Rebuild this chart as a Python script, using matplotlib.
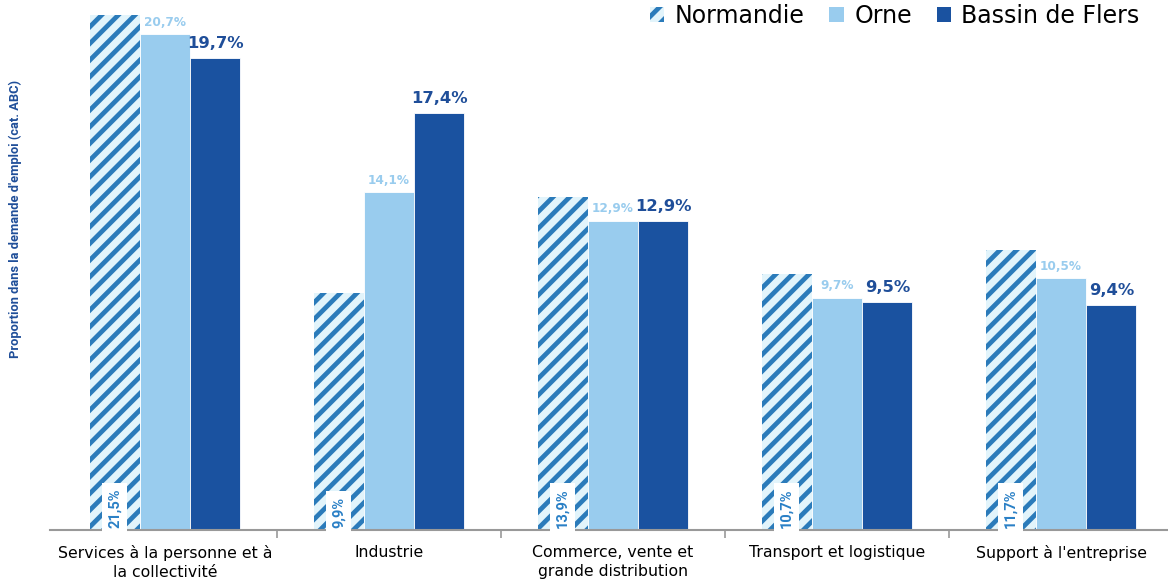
import matplotlib
matplotlib.use("Agg")
import matplotlib.pyplot as plt
import numpy as np
from matplotlib.patches import Patch

categories = ["Services à la personne et à\nla collectivité", "Industrie",
              "Commerce, vente et\ngrande distribution", "Transport et logistique",
              "Support à l'entreprise"]
series_names = ["Normandie", "Orne", "Bassin de Flers"]
normandie = [21.5, 9.9, 13.9, 10.7, 11.7]
orne = [20.7, 14.1, 12.9, 9.7, 10.5]
bassin = [19.7, 17.4, 12.9, 9.5, 9.4]
normandie_labels = ["21,5%", "9,9%", "13,9%", "10,7%", "11,7%"]
orne_labels = ["20,7%", "14,1%", "12,9%", "9,7%", "10,5%"]
bassin_labels = ["19,7%", "17,4%", "12,9%", "9,5%", "9,4%"]

STRIPE = "#2B7BBA"
HATCH_BG = "#E2F4FB"
ORNE_C = "#99CCEE"
BASSIN_C = "#1A52A0"
DARK_TXT = "#1F4E99"
NORM_TXT = "#2A80C6"

plt.rcParams["hatch.linewidth"] = 3.4
plt.rcParams["font.family"] = ["DejaVu Sans"]

fig = plt.figure(figsize=(11.68, 5.82), dpi=100)
ax = fig.add_axes([50/1168, 52/582, 1 - 50/1168, 515/582])

x = np.arange(len(categories))
w = 0.223
off = 0.225

b1 = ax.bar(x - off, normandie, w, color=HATCH_BG, edgecolor=STRIPE, hatch="//", linewidth=0)
b2 = ax.bar(x, orne, w, color=ORNE_C, edgecolor="white", linewidth=0.6)
b3 = ax.bar(x + off, bassin, w, color=BASSIN_C, edgecolor="white", linewidth=0.6)

for xi, lab in zip(x, normandie_labels):
    ax.text(xi - off, 0.1, lab, rotation=90, ha="center", va="bottom",
            fontsize=10.5, color=NORM_TXT, fontweight="bold",
            family=["Roboto", "DejaVu Sans"], fontstretch="condensed",
            bbox=dict(boxstyle="square,pad=0.35", fc="white", ec="none"))
for xi, v, lab in zip(x, orne, orne_labels):
    ax.annotate(lab, (xi, v), xytext=(0, 4), textcoords="offset points",
                ha="center", va="bottom", fontsize=8.7, fontweight="bold", color=ORNE_C)
for xi, v, lab in zip(x + off, bassin, bassin_labels):
    ax.annotate(lab, (xi, v), xytext=(0, 5), textcoords="offset points",
                ha="center", va="bottom", fontsize=11.8, fontweight="bold", color=DARK_TXT)

ax.set_ylim(0, 21.5)
ax.set_xlim((50 - 165) / 224, (1168 - 165) / 224)
ax.set_yticks([])
for s in ["left", "right", "top"]:
    ax.spines[s].set_visible(False)
ax.spines["bottom"].set_color("#999999")
ax.spines["bottom"].set_linewidth(1.5)
ax.set_xticks(x)
ax.set_xticklabels(categories, fontsize=11.3, color="black", linespacing=1.3)
ax.tick_params(axis="x", which="major", length=0, pad=11)
ax.set_xticks(np.arange(0.5, len(categories) - 0.5, 1), minor=True)
ax.tick_params(axis="x", which="minor", length=6, width=1.2, color="#999999")

fig.text(0.0135, 1 - 219/582, "Proportion dans la demande d'emploi (cat. ABC)",
         rotation=90, ha="center", va="center", fontsize=9.3, fontweight="bold",
         color=DARK_TXT, family=["Roboto", "DejaVu Sans"])

handles = [Patch(facecolor=HATCH_BG, edgecolor=STRIPE, hatch="//", linewidth=0),
           Patch(facecolor=ORNE_C, edgecolor="none"),
           Patch(facecolor=BASSIN_C, edgecolor="none")]
fig.legend(handles, series_names, loc="upper right", bbox_to_anchor=(1142/1168, 0.998),
           ncol=3, frameon=False, fontsize=17, handlelength=0.6, handleheight=0.6,
           handletextpad=0.45, columnspacing=1.05, borderaxespad=0, borderpad=0.1)

fig.savefig("out.png", dpi=100)
